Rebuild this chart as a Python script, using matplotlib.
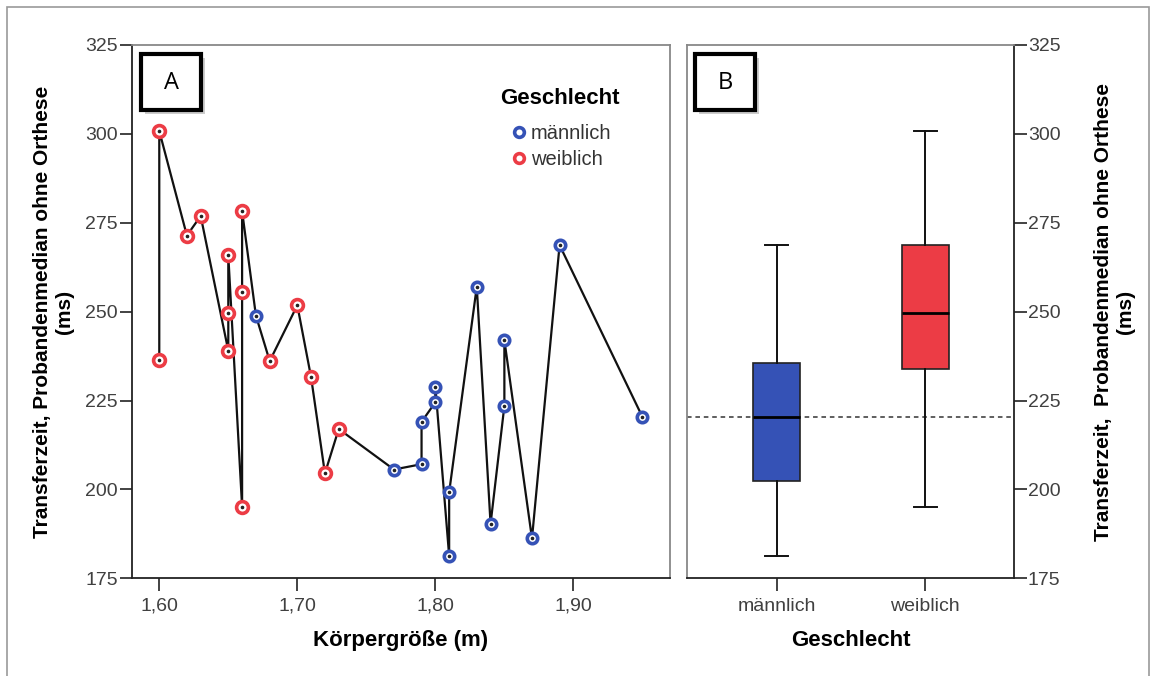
import numpy as np
import matplotlib.pyplot as plt
from matplotlib.patches import Rectangle
from matplotlib.lines import Line2D

plt.rcParams['font.family'] = ['Liberation Sans', 'DejaVu Sans']

# Körpergröße (m) und Transferzeit (ms)
weiblich_x = [1.60, 1.60, 1.62, 1.63, 1.65, 1.65, 1.65, 1.66, 1.66, 1.66, 1.68, 1.70, 1.71, 1.72, 1.73]
weiblich_y = [300.8, 236.4, 271.4, 276.9, 265.8, 249.5, 239.0, 278.3, 255.4, 195.1, 236.1, 251.8, 231.5, 204.5, 217.0]
maennlich_x = [1.67, 1.77, 1.79, 1.79, 1.80, 1.80, 1.81, 1.81, 1.83, 1.84, 1.85, 1.85, 1.87, 1.89, 1.95]
maennlich_y = [248.9, 205.6, 207.1, 219.0, 224.5, 228.9, 199.2, 181.3, 257.0, 190.3, 242.0, 223.5, 186.2, 268.7, 220.4]

gruppen = ['männlich', 'weiblich']
yticks = [175, 200, 225, 250, 275, 300, 325]
xticks = [1.60, 1.70, 1.80, 1.90]

blau = '#3552b6'
rot = '#ec3c45'

fig = plt.figure(figsize=(11.56, 6.76), dpi=100)
ax1 = fig.add_axes([0.1139, 0.1445, 0.4657, 0.789])
ax2 = fig.add_axes([0.5943, 0.1445, 0.2829, 0.789])

# linke Grafik: Linie sortiert nach Größe, dann Zeit
pts = sorted(zip(weiblich_x + maennlich_x, weiblich_y + maennlich_y))
ax1.plot([p[0] for p in pts], [p[1] for p in pts], color='#111111', lw=1.6, zorder=2)
for xs, ys, c, ms in [(maennlich_x, maennlich_y, blau, 7.5), (weiblich_x, weiblich_y, rot, 8.5)]:
    ax1.plot(xs, ys, 'o', ms=ms, mfc='white', mec=c, mew=2.6, zorder=3)
    ax1.plot(xs, ys, 'o', ms=1.6, color='#222222', zorder=4)

ax1.set_xlim(1.58, 1.97)
ax1.set_ylim(175, 325)
ax1.set_xticks(xticks)
ax1.set_xticklabels([('%.2f' % v).replace('.', ',') for v in xticks])
ax1.set_yticks(yticks)
ax1.set_xlabel('Körpergröße (m)', fontsize=16, fontweight='bold', labelpad=11)
ax1.set_ylabel('Transferzeit, Probandenmedian ohne Orthese\n(ms)', fontsize=15, fontweight='bold', labelpad=8)

# Legende: Titel als eigener Text, Einträge eingerückt
ax1.text(0.684, 0.899, 'Geschlecht', transform=ax1.transAxes, fontsize=16, fontweight='bold',
         ha='left', va='center')
handles = [Line2D([], [], marker='o', ls='', ms=7, mfc='white', mec=blau, mew=2.6),
           Line2D([], [], marker='o', ls='', ms=7, mfc='white', mec=rot, mew=2.6)]
leg = ax1.legend(handles, gruppen, loc='upper left', bbox_to_anchor=(0.684, 0.870),
                 frameon=False, fontsize=14.5, handletextpad=0.15, handlelength=0.9,
                 labelspacing=0.35, borderpad=0)
for t in leg.get_texts():
    t.set_color('#333333')

# rechte Grafik: Boxplots
box = ax2.boxplot([maennlich_y, weiblich_y], positions=[1, 2], widths=0.317, patch_artist=True,
                  capwidths=0.155, showfliers=False)
for patch, c in zip(box['boxes'], [blau, rot]):
    patch.set_facecolor(c)
    patch.set_edgecolor('#222222')
    patch.set_linewidth(1.2)
for k in ['whiskers', 'caps']:
    for l in box[k]:
        l.set_color('#111111')
        l.set_linewidth(1.4)
for l in box['medians']:
    l.set_color('#000000')
    l.set_linewidth(2.0)
ax2.axhline(np.median(maennlich_y), color='#333333', lw=1.1, ls=(0, (3, 2.5)), zorder=1)

ax2.set_xlim(0.393, 2.6)
ax2.set_ylim(175, 325)
ax2.set_xticks([1, 2])
ax2.set_xticklabels(gruppen)
ax2.set_yticks(yticks)
ax2.yaxis.tick_right()
ax2.yaxis.set_label_position('right')
ax2.set_xlabel('Geschlecht', fontsize=16, fontweight='bold', labelpad=11)
ax2.set_ylabel('Transferzeit,  Probandenmedian ohne Orthese\n(ms)', fontsize=15, fontweight='bold', labelpad=24)

for ax in (ax1, ax2):
    ax.tick_params(direction='out', length=9, width=1.2, labelsize=14, colors='#222222',
                   labelcolor='#404040', pad=1)
    ax.tick_params(axis='x', pad=5)
    for s in ax.spines.values():
        s.set_color('#888888')
        s.set_linewidth(1.3)
    ax.spines['bottom'].set_color('#222222')
ax1.spines['left'].set_color('#222222')
ax2.spines['right'].set_color('#222222')

# Kästchen A und B mit Schatten
W, H = 1156, 676
for x0, lab in [(141, 'A'), (695, 'B')]:
    y0 = 54
    fig.patches.append(Rectangle(((x0 + 4) / W, 1 - (y0 + 60) / H), 60 / W, 56 / H,
                                 transform=fig.transFigure, facecolor='#cccccc', edgecolor='none', zorder=5))
    fig.patches.append(Rectangle((x0 / W, 1 - (y0 + 56) / H), 60 / W, 56 / H,
                                 transform=fig.transFigure, facecolor='white', edgecolor='black', lw=3, zorder=6))
    fig.text((x0 + 30) / W, 1 - (y0 + 29) / H, lab, ha='center', va='center', fontsize=17,
             family=['Open Sans', 'DejaVu Sans'], zorder=7)

# äußerer Rahmen
fig.patches.append(Rectangle((7 / W, -0.01), 1142 / W, 1 - 7 / H + 0.01, transform=fig.transFigure,
                             facecolor='none', edgecolor='#999999', lw=1.2, zorder=0))

fig.savefig('out.png', dpi=100)
